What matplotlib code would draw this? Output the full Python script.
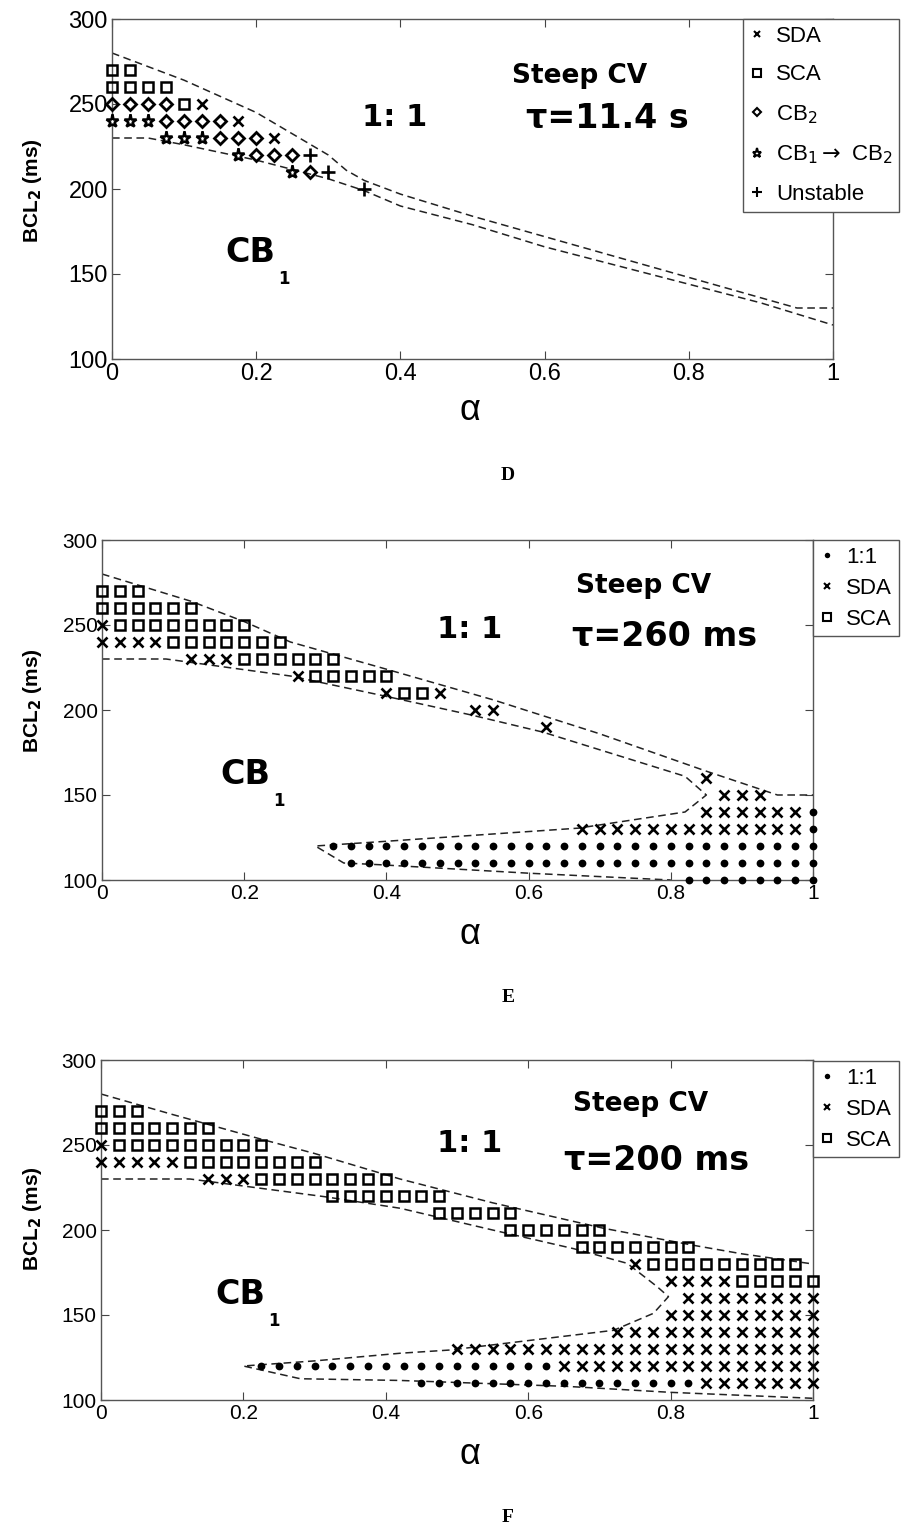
import numpy as np
import matplotlib.pyplot as plt
from matplotlib.lines import Line2D

plt.rcParams['font.family'] = ['Liberation Sans', 'DejaVu Sans']

STEP = 0.025  # alpha spacing of the simulation grid

## donnees : lignes de la grille (BCL2, premier alpha, dernier alpha)
# panneau D, tau = 11.4 s
d_sda = [(250, 0.125, 0.125), (240, 0.175, 0.175), (230, 0.225, 0.225)]
d_sca = [(270, 0, 0.025), (260, 0, 0.075), (250, 0.1, 0.1)]
d_cb2 = [(250, 0, 0.075), (240, 0.075, 0.15), (230, 0.15, 0.2), (220, 0.2, 0.25), (210, 0.275, 0.275)]
d_cb12 = [(240, 0, 0.05), (230, 0.075, 0.125), (220, 0.175, 0.175), (210, 0.25, 0.25)]
d_unst = [(220, 0.275, 0.275), (210, 0.3, 0.3), (200, 0.35, 0.35)]
d_up_a = [0, 0.1, 0.2, 0.3, 0.325, 0.35, 0.4, 0.5, 0.6, 0.7, 0.8, 0.9, 0.95, 1.0]
d_up_b = [280, 264, 245, 220, 211, 205, 197, 184, 172, 160, 148, 136, 130, 130]
d_lo_a = [0, 0.05, 0.1, 0.2, 0.3, 0.35, 0.4, 0.5, 0.6, 0.7, 0.8, 0.9, 1.0]
d_lo_b = [230, 230, 226, 217, 206, 199, 190, 179, 166, 155, 144, 133, 120]

# panneau E, tau = 260 ms
e_one = [(140, 1, 1), (130, 1, 1), (120, 0.325, 1), (110, 0.35, 1), (100, 0.825, 1)]
e_sda = [(250, 0, 0), (240, 0, 0.075), (230, 0.125, 0.175), (220, 0.275, 0.275), (210, 0.4, 0.4),
         (210, 0.475, 0.475), (200, 0.525, 0.55), (190, 0.625, 0.625), (160, 0.85, 0.85),
         (150, 0.875, 0.925), (140, 0.85, 0.975), (130, 0.675, 0.975)]
e_sca = [(270, 0, 0.05), (260, 0, 0.125), (250, 0.025, 0.2), (240, 0.1, 0.25), (230, 0.2, 0.325),
         (220, 0.3, 0.4), (210, 0.425, 0.45)]
e_up_a = [0, 0.125, 0.2, 0.265, 0.4, 0.55, 0.7, 0.85, 0.95, 1.0]
e_up_b = [280, 264, 252, 240, 224, 206, 186, 164, 150, 150]
e_lo_a = [0, 0.09, 0.265, 0.4, 0.52, 0.62, 0.82, 0.85, 0.82, 0.67, 0.39, 0.3, 0.34, 0.39, 0.6, 0.8]
e_lo_b = [230, 230, 220, 208, 197, 187, 161, 150, 140, 130.5, 122.5, 120, 110, 109, 104, 100]

# panneau F, tau = 200 ms
f_one = [(120, 0.225, 0.625), (110, 0.45, 0.825)]
f_sda = [(250, 0, 0), (240, 0, 0.1), (230, 0.15, 0.2), (180, 0.75, 0.75), (170, 0.8, 0.875),
         (160, 0.825, 1), (150, 0.8, 1), (140, 0.725, 1), (130, 0.5, 1), (120, 0.65, 1), (110, 0.85, 1)]
f_sca = [(270, 0, 0.05), (260, 0, 0.15), (250, 0.025, 0.225), (240, 0.125, 0.3), (230, 0.225, 0.4),
         (220, 0.325, 0.475), (210, 0.475, 0.575), (200, 0.575, 0.7), (190, 0.675, 0.825),
         (180, 0.775, 0.975), (170, 0.9, 1.0)]
f_up_a = [0, 0.1, 0.22, 0.3, 0.42, 0.55, 0.706, 0.832, 0.9, 1.0]
f_up_b = [280, 268, 254, 245, 230, 216, 201, 191, 186, 180]
f_lo_a = [0, 0.125, 0.314, 0.42, 0.55, 0.664, 0.739, 0.781, 0.797, 0.776, 0.72, 0.49, 0.42, 0.3, 0.2,
          0.28, 0.42, 0.655, 0.8, 1.0]
f_lo_b = [230, 230, 219.6, 212.8, 200, 189, 180.4, 166.7, 160.8, 151, 141, 129.4, 127.5, 123, 120,
          112.5, 111.5, 108, 104.5, 101]

ticks_x = [0, 0.2, 0.4, 0.6, 0.8, 1]
ticks_x_lab = ['0', '0.2', '0.4', '0.6', '0.8', '1']
ticks_y = [100, 150, 200, 250, 300]

## styles des marqueurs
sty = {
    'sda': dict(marker='x', ms=7, mew=1.9),
    'sca': dict(marker='s', ms=7.4, mew=1.8, mfc='none'),
    'cb2': dict(marker='D', ms=6.4, mew=2, mfc='none'),
    'cb12': dict(marker='*', ms=9.5, mew=1.8, mfc='white'),
    'unst': dict(marker='+', ms=10, mew=1.9),
    'one': dict(marker='o', ms=5.6, mew=0),
}


def expand(rows):
    a, b = [], []
    for bcl, a0, a1 in rows:
        n = int(round((a1 - a0) / STEP)) + 1
        for k in range(n):
            a.append(a0 + k * STEP)
            b.append(bcl)
    return a, b


W, H = 908, 1533
fig = plt.figure(figsize=(W / 100, H / 100), dpi=100)


def px(x, y):  # pixels -> fraction de figure
    return x / W, 1 - y / H


def panel(left, top, right, bottom, fs):
    ax = fig.add_axes([left / W, 1 - bottom / H, (right - left) / W, (bottom - top) / H])
    ax.set_xlim(0, 1)
    ax.set_ylim(100, 300)
    ax.set_xticks(ticks_x)
    ax.set_xticklabels(ticks_x_lab)
    ax.set_yticks(ticks_y)
    ax.tick_params(direction='in', top=True, right=True, length=6, width=0.8, color='#444',
                   labelsize=fs, pad=3)
    for s in ax.spines.values():
        s.set_color('#555')
        s.set_linewidth(1)
    return ax


def draw(ax, rows, key):
    a, b = expand(rows)
    ax.plot(a, b, ls='none', color='k', clip_on=False, zorder=3, **sty[key])


def lines(ax, xa, ya):
    ax.plot(xa, ya, color='#222', lw=1.1, dashes=(5, 3), zorder=2)


def notes(ax_top, cv_xy, one_xy, tau_xy, tau, cb_xy, alpha_y, letter_y):
    fig.text(*px(*cv_xy), 'Steep CV', ha='center', va='center', fontsize=19, weight='bold', family='DejaVu Sans')
    fig.text(*px(*one_xy), '1: 1', ha='center', va='center', fontsize=22, weight='bold', family='DejaVu Sans')
    fig.text(*px(*tau_xy), tau, ha='center', va='center', fontsize=24, weight='bold', family='DejaVu Sans')
    fig.text(*px(*cb_xy), 'CB', ha='center', va='center', fontsize=24, weight='bold', family='DejaVu Sans')
    fig.text(*px(cb_xy[0] + 34, cb_xy[1] + 26), '1', ha='center', va='center', fontsize=12, weight='bold',
             family='DejaVu Sans')
    fig.text(*px(470, alpha_y), 'α', ha='center', va='center', fontsize=26)
    fig.text(*px(508, letter_y), ax_top, ha='center', va='center', fontsize=14, weight='bold',
             family='Liberation Serif')
    fig.text(*px(32, cv_xy[1] + 115), r'BCL$_\mathbf{2}$ (ms)', rotation=90, ha='center', va='center',
             fontsize=15, weight='bold')


def leg_handle(key):
    d = dict(sty[key])
    d['ms'] = d['ms'] * 0.7
    d['mew'] = 1.5 if d['mew'] else 0
    return Line2D([], [], ls='none', color='k', **d)


## panneau D
axD = panel(112, 19, 833, 359, 17)
lines(axD, d_up_a, d_up_b)
lines(axD, d_lo_a, d_lo_b)
for rows, key in [(d_sda, 'sda'), (d_sca, 'sca'), (d_cb2, 'cb2'), (d_cb12, 'cb12'), (d_unst, 'unst')]:
    draw(axD, rows, key)
notes('D', (580, 76), (395, 118), (607, 118), 'τ=11.4 s', (250, 253), 410, 475)
fig.legend([leg_handle(k) for k in ['sda', 'sca', 'cb2', 'cb12', 'unst']],
           ['SDA', 'SCA', r'CB$_2$', r'CB$_1$$\rightarrow$ CB$_2$', 'Unstable'],
           loc='upper left', bbox_to_anchor=px(743, 19), fontsize=16, frameon=True, fancybox=False,
           edgecolor='#555', framealpha=1, handlelength=0.7, handletextpad=0.5, borderpad=0.3,
           labelspacing=0.8, borderaxespad=0)

## panneau E
axE = panel(102, 540, 813, 880, 15)
lines(axE, e_up_a, e_up_b)
lines(axE, e_lo_a, e_lo_b)
for rows, key in [(e_one, 'one'), (e_sda, 'sda'), (e_sca, 'sca')]:
    draw(axE, rows, key)
notes('E', (644, 586), (470, 630), (665, 636), 'τ=260 ms', (245, 775), 935, 997)
fig.legend([leg_handle(k) for k in ['one', 'sda', 'sca']], ['1:1', 'SDA', 'SCA'],
           loc='upper left', bbox_to_anchor=px(813, 540), fontsize=16, frameon=True, fancybox=False,
           edgecolor='#555', framealpha=1, handlelength=0.7, handletextpad=0.5, borderpad=0.3,
           labelspacing=0.45, borderaxespad=0)

## panneau F
axF = panel(101, 1060, 813, 1400, 15)
lines(axF, f_up_a, f_up_b)
lines(axF, f_lo_a, f_lo_b)
for rows, key in [(f_one, 'one'), (f_sda, 'sda'), (f_sca, 'sca')]:
    draw(axF, rows, key)
notes('F', (641, 1104), (470, 1143), (657, 1160), 'τ=200 ms', (240, 1295), 1455, 1518)
fig.legend([leg_handle(k) for k in ['one', 'sda', 'sca']], ['1:1', 'SDA', 'SCA'],
           loc='upper left', bbox_to_anchor=px(813, 1061), fontsize=16, frameon=True, fancybox=False,
           edgecolor='#555', framealpha=1, handlelength=0.7, handletextpad=0.5, borderpad=0.3,
           labelspacing=0.45, borderaxespad=0)

fig.savefig('out.png', dpi=100)
